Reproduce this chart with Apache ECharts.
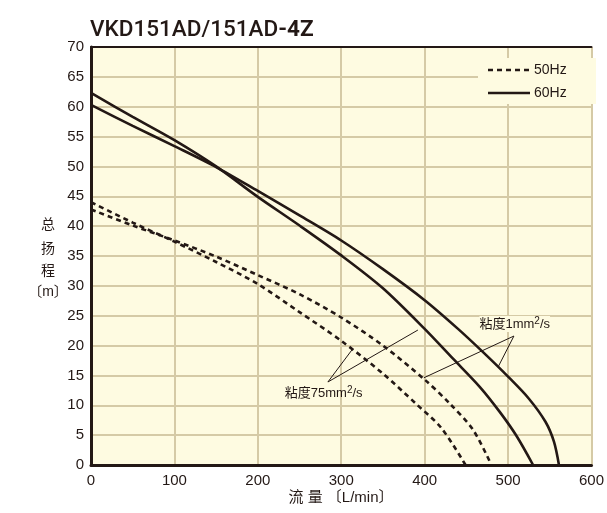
<!DOCTYPE html>
<html><head><meta charset="utf-8">
<script src="https://cdn.jsdelivr.net/npm/echarts@6/dist/echarts.min.js"></script>
<style>html,body{margin:0;padding:0;background:#fff}#c{width:607px;height:513px}</style>
</head><body><div id="c"></div>
<script>
// 60Hz, viscosity 75 mm2/s
const flow60v75 = [0, 50, 100, 150, 200, 250, 300, 350, 400, 434, 466, 490, 510, 530];
const head60v75 = [62.3, 58.3, 54.4, 50.0, 44.9, 40.1, 35.1, 29.6, 22.8, 17.8, 13.1, 8.9, 4.9, 0];
// 60Hz, viscosity 1 mm2/s
const flow60v1 = [0, 50, 100, 150, 200, 250, 300, 350, 400, 440, 470, 500, 525, 545, 555, 561];
const head60v1 = [60.3, 56.8, 53.4, 49.9, 45.9, 41.8, 37.6, 32.8, 27.6, 22.8, 18.9, 14.8, 11.1, 7.2, 3.9, 0];
// 50Hz, viscosity 75 mm2/s
const flow50v75 = [0, 50, 100, 150, 200, 250, 300, 350, 390, 420, 449];
const head50v75 = [44.0, 40.6, 37.4, 34.0, 30.3, 25.6, 20.8, 15.3, 10.2, 6.2, 0];
// 50Hz, viscosity 1 mm2/s
const flow50v1 = [0, 50, 100, 150, 200, 250, 300, 350, 400, 430, 458, 480];
const head50v1 = [42.8, 40.1, 37.6, 34.9, 31.8, 28.6, 24.7, 20.0, 14.3, 10.3, 5.9, 0];
// axis ticks
const xTicks = [0, 100, 200, 300, 400, 500, 600];
const yTicks = [0, 5, 10, 15, 20, 25, 30, 35, 40, 45, 50, 55, 60, 65, 70];
// annotation anchors (data coords)
const note75Label = [279, 12.0];
const note75Origin = [284, 13.9];
const note75Targets = [[313.5, 19.4], [391.9, 22.6]];
const note1Label = [508, 23.6];
const note1Origin = [507, 21.6];
const note1Targets = [[399, 14.6], [488, 16.4]];

const INK = '#231815';
const zip = (xs, ys) => xs.map((x, i) => [x, ys[i]]);
const chart = echarts.init(document.getElementById('c'), null, {renderer: 'canvas'});

function lineSeries(name, data, dashed, extra) {
  return Object.assign({
    name, type: 'line', data, symbol: 'none', smooth: 0.3,
    lineStyle: {color: INK, width: 2.6, type: dashed ? [5, 4] : 'solid', cap: 'butt'},
    silent: true, animation: false, z: 5
  }, extra || {});
}
const mlStyle = {color: INK, width: 1, type: 'solid'};
function noteLines(origin, targets) {
  return targets.map(t => [{coord: origin}, {coord: t}]);
}

chart.setOption({
  animation: false,
  backgroundColor: '#ffffff',
  grid: {left: 91, top: 47, right: 11, bottom: 48, show: true, backgroundColor: '#fefbe1', borderWidth: 0},
  xAxis: [{
    type: 'value', min: 0, max: 600, interval: 100,
    axisLine: {show: true, lineStyle: {color: INK, width: 3}},
    axisTick: {show: false},
    axisLabel: {color: INK, fontSize: 15, fontFamily: 'Liberation Sans', margin: 8,
      formatter: v => xTicks.includes(v) ? String(v) : ''},
    splitLine: {show: true, lineStyle: {color: '#d5caa6', width: 2}}
  }, {
    type: 'value', position: 'top', min: 0, max: 600,
    axisLine: {show: true, lineStyle: {color: INK, width: 2}},
    axisTick: {show: false}, axisLabel: {show: false}, splitLine: {show: false}
  }],
  yAxis: {
    type: 'value', min: 0, max: 70, interval: 5,
    axisLine: {show: true, lineStyle: {color: INK, width: 3}},
    axisTick: {show: false},
    axisLabel: {color: INK, fontSize: 15, fontFamily: 'Liberation Sans', margin: 7,
      formatter: v => yTicks.includes(v) ? String(v) : ''},
    splitLine: {show: true, lineStyle: {color: '#d5caa6', width: 2}}
  },
  series: [
    lineSeries('60Hz', zip(flow60v75, head60v75), false, {
      markLine: {silent: true, symbol: ['none', 'none'], lineStyle: mlStyle, label: {show: false},
        animation: false, data: noteLines(note75Origin, note75Targets).concat(noteLines(note1Origin, note1Targets))}
    }),
    lineSeries('60Hz', zip(flow60v1, head60v1), false),
    lineSeries('50Hz', zip(flow50v75, head50v75), true),
    lineSeries('50Hz', zip(flow50v1, head50v1), true)
  ]
});

const p75 = chart.convertToPixel({gridIndex: 0}, note75Label);
const p1 = chart.convertToPixel({gridIndex: 0}, note1Label);
const richNote = {
  n: {fontSize: 13, fontFamily: 'Liberation Sans, Noto Sans CJK SC', fill: INK},
  s: {fontSize: 10, fontFamily: 'Liberation Sans', fill: INK, verticalAlign: 'top', padding: [0, 0, 6, 0]}
};
const CJK = 'Noto Sans CJK SC';

chart.setOption({
  graphic: [
    // title
    {type: 'text', left: 90, top: 19, style: {
      text: '{a|VKD151AD/151AD}{b|-4Z}',
      rich: {a: {fontSize: 22.5, fontFamily: 'Roboto', fontWeight: 500, fill: INK},
             b: {fontSize: 22.5, fontFamily: 'Roboto', fontWeight: 'bold', fill: INK}}
    }},
    // legend
    {type: 'rect', shape: {x: 478, y: 58, width: 118, height: 46}, style: {fill: '#fefbe1'}, z: 10},
    {type: 'line', shape: {x1: 488, y1: 70, x2: 530, y2: 70}, style: {stroke: INK, lineWidth: 2.4, lineDash: [5, 4]}, z: 11},
    {type: 'text', x: 534, y: 70, style: {text: '50Hz', fontSize: 14, fontFamily: 'Liberation Sans', fill: INK, verticalAlign: 'middle'}, z: 11},
    {type: 'line', shape: {x1: 488, y1: 93, x2: 530, y2: 93}, style: {stroke: INK, lineWidth: 2.4}, z: 11},
    {type: 'text', x: 534, y: 93, style: {text: '60Hz', fontSize: 14, fontFamily: 'Liberation Sans', fill: INK, verticalAlign: 'middle'}, z: 11},
    // annotation texts
    {type: 'text', x: p75[0], y: p75[1], z: 12, style: {
      text: '{n|粘度75mm}{s|2}{n|/s}', rich: richNote, align: 'center', verticalAlign: 'middle'}},
    {type: 'text', x: p1[0], y: p1[1], z: 12, style: {
      text: '{n|粘度1mm}{s|2}{n|/s}', rich: richNote, align: 'center', verticalAlign: 'middle',
      backgroundColor: '#fefbe1'}},
    // y axis name
    {type: 'text', x: 48, y: 224, style: {text: '总', fontSize: 14, fontFamily: CJK, fill: INK, align: 'center', verticalAlign: 'middle'}},
    {type: 'text', x: 48, y: 248, style: {text: '扬', fontSize: 14, fontFamily: CJK, fill: INK, align: 'center', verticalAlign: 'middle'}},
    {type: 'text', x: 48, y: 270, style: {text: '程', fontSize: 14, fontFamily: CJK, fill: INK, align: 'center', verticalAlign: 'middle'}},
    {type: 'text', x: 48, y: 292, style: {text: '〔m〕', fontSize: 14, fontFamily: 'Liberation Sans, ' + CJK, fill: INK, align: 'center', verticalAlign: 'middle'}},
    // x axis name
    {type: 'text', x: 341, y: 498, style: {text: '流 量 〔L/min〕', fontSize: 15, fontFamily: 'Liberation Sans, ' + CJK, fill: INK, align: 'center', verticalAlign: 'middle'}}
  ]
});
</script></body></html>
